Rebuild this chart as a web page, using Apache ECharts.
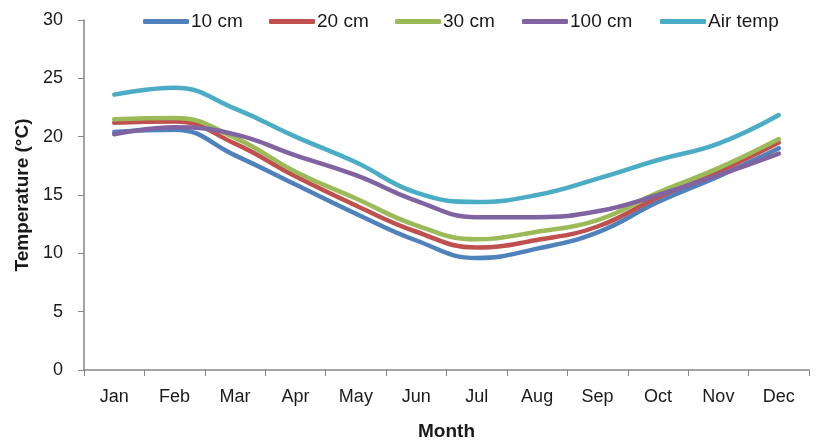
<!DOCTYPE html>
<html>
<head>
<meta charset="utf-8">
<script src="https://cdn.jsdelivr.net/npm/echarts@6/dist/echarts.min.js"></script>
<style>html,body{margin:0;padding:0;background:#fff}#c{width:817px;height:442px}</style>
</head>
<body>
<div id="c"></div>
<script>
var months = ['Jan','Feb','Mar','Apr','May','Jun','Jul','Aug','Sep','Oct','Nov','Dec'];
var seriesNames = ['10 cm','20 cm','30 cm','100 cm','Air temp'];
var cm10  = [20.4, 20.6, 18.4, 15.9, 13.4, 11.1, 9.6, 10.4, 11.8, 14.4, 16.6, 19.0];
var cm20  = [21.2, 21.3, 19.4, 16.6, 14.1, 11.85, 10.5, 11.15, 12.3, 14.8, 17.0, 19.5];
var cm30  = [21.5, 21.6, 19.9, 17.0, 14.7, 12.4, 11.2, 11.85, 12.85, 15.2, 17.3, 19.8];
var cm100 = [20.2, 20.8, 20.2, 18.4, 16.7, 14.5, 13.1, 13.1, 13.6, 15.0, 16.7, 18.55];
var air   = [23.6, 24.2, 22.4, 20.0, 17.8, 15.2, 14.4, 15.0, 16.4, 18.0, 19.4, 21.85];
var yTicks = [0, 5, 10, 15, 20, 25, 30];
var colors = ['#4F81BD','#C0504D','#9BBB59','#8064A2','#4BACC6'];
var values = [cm10, cm20, cm30, cm100, air];
var legendLeft = [138, 264, 390, 517, 655];

var font = 'Liberation Sans';
var chart = echarts.init(document.getElementById('c'), null, {renderer:'canvas'});
var legends = seriesNames.map(function(n, i){
  return {
    data: [n], left: legendLeft[i], top: 7,
    itemWidth: 46, itemHeight: 5, icon: 'roundRect', itemGap: 0,
    textStyle: {fontFamily: font, fontSize: 19, color: '#1a1a1a', padding: [0,0,0,-3]}
  };
});
chart.setOption({
  animation: false,
  color: colors,
  legend: legends,
  grid: {left: 84, right: 8, top: 20, bottom: 72, containLabel: false, outerBoundsMode: 'none'},
  xAxis: {
    type: 'category', data: months, boundaryGap: true,
    name: 'Month', nameLocation: 'middle', nameGap: 52,
    nameTextStyle: {fontFamily: font, fontSize: 19, fontWeight: 'bold', color: '#1a1a1a'},
    axisLine: {lineStyle: {color: '#868686', width: 1.5}},
    axisTick: {show: true, length: 6, lineStyle: {color: '#868686'}, alignWithLabel: false},
    axisLabel: {fontFamily: font, fontSize: 18, color: '#1a1a1a', margin: 18},
    splitLine: {show: false}
  },
  yAxis: {
    type: 'value', min: yTicks[0], max: yTicks[yTicks.length-1], interval: 5,
    name: 'Temperature (°C)', nameLocation: 'middle', nameGap: 48, nameRotate: 90,
    nameTextStyle: {fontFamily: font, fontSize: 19, fontWeight: 'bold', color: '#1a1a1a'},
    axisLine: {show: true, lineStyle: {color: '#868686', width: 1.5}},
    axisTick: {show: true, length: 6, lineStyle: {color: '#868686'}},
    axisLabel: {fontFamily: font, fontSize: 18, color: '#1a1a1a', margin: 21},
    splitLine: {show: false}
  },
  series: seriesNames.map(function(n, i){
    return {
      name: n, type: 'line', data: values[i], smooth: 0.45,
      showSymbol: false, symbol: 'none',
      lineStyle: {width: 4.5, color: colors[i], cap: 'round'},
      itemStyle: {color: colors[i]}
    };
  })
});
</script>
</body>
</html>
